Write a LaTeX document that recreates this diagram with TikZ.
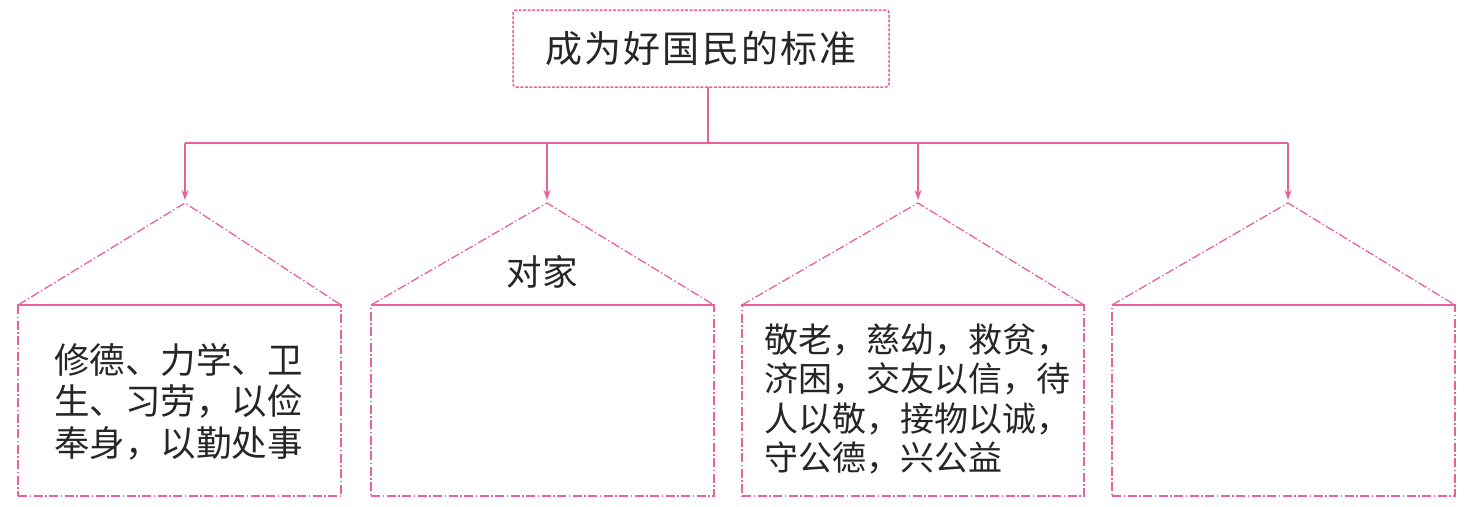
\documentclass[tikz,border=0pt]{standalone}
\usepackage{fontspec}
\newfontfamily\cjk{Noto Sans CJK SC}
\newfontfamily\cjktitle[LetterSpace=6]{Noto Sans CJK SC}
\usetikzlibrary{arrows.meta}
\definecolor{pk}{RGB}{232,98,158}
\begin{document}
\begin{tikzpicture}[x=1pt,y=1pt,
  every node/.style={inner sep=0pt, outer sep=0pt},
  titlebox/.style={draw=pk, line width=1.5pt, dash pattern=on 3pt off 1.5pt, rounded corners=3pt, minimum width=376pt, minimum height=77pt, font=\cjktitle\fontsize{37}{40}\selectfont, text=black!85},
  card/.style={draw=pk, line width=1.3pt, dash pattern=on 9pt off 2.5pt on 1.5pt off 2.5pt, minimum height=191pt},
  roof/.style={draw=pk, line width=1.3pt, dash pattern=on 9pt off 2.5pt on 1.5pt off 2.5pt},
  ridge/.style={draw=pk, line width=1.9pt},
  conn/.style={draw=pk, line width=1.7pt},
  arr/.style={conn, -{Stealth[length=10pt,width=7pt]}},
  txtA/.style={font=\cjk\fontsize{35.5}{41.5}\selectfont, align=left, text=black!85},
  txtB/.style={font=\cjk\fontsize{34}{39.5}\selectfont, align=left, text=black!85}
]
\useasboundingbox (0,0) rectangle (1467,-506);
\node[titlebox] (title) at (701,-48.5) {成为好国民的标准};

\node[card, minimum width=323pt] (b1) at (179.5,-400.5) {};
\node[card, minimum width=343pt] (b2) at (542.5,-400.5) {};
\node[card, minimum width=342pt] (b3) at (913,-400.5) {};
\node[card, minimum width=343pt] (b4) at (1283.5,-400.5) {};

\coordinate (a1) at (185,-203);
\coordinate (a2) at (547,-203);
\coordinate (a3) at (918,-203);
\coordinate (a4) at (1288,-203);

\foreach \i in {1,2,3,4}{
  \draw[roof] (b\i.north west) -- (a\i) -- (b\i.north east);
  \draw[ridge] (b\i.north west) -- (b\i.north east);
}

\coordinate (s0) at (708,-87);
\coordinate (j) at (708,-143);
\coordinate (j1) at (185,-143);
\coordinate (j2) at (547,-143);
\coordinate (j3) at (918,-143);
\coordinate (j4) at (1288,-143);
\draw[conn] (s0) -- (j);
\draw[conn] (j1) -- (j4);
\draw[arr] (j1) -- ([yshift=3pt]a1);
\draw[arr] (j2) -- ([yshift=3pt]a2);
\draw[arr] (j3) -- ([yshift=3pt]a3);
\draw[arr] (j4) -- ([yshift=3pt]a4);

\node[txtA] (t1) at (178.5,-401.5) {修德、力学、卫\\生、习劳，以俭\\奉身，以勤处事};
\node[txtA] (t2) at (542,-272) {对家};
\node[txtB] (t3) at (917,-399) {敬老，慈幼，救贫，\\济困，交友以信，待\\人以敬，接物以诚，\\守公德，兴公益};
\end{tikzpicture}
\end{document}
